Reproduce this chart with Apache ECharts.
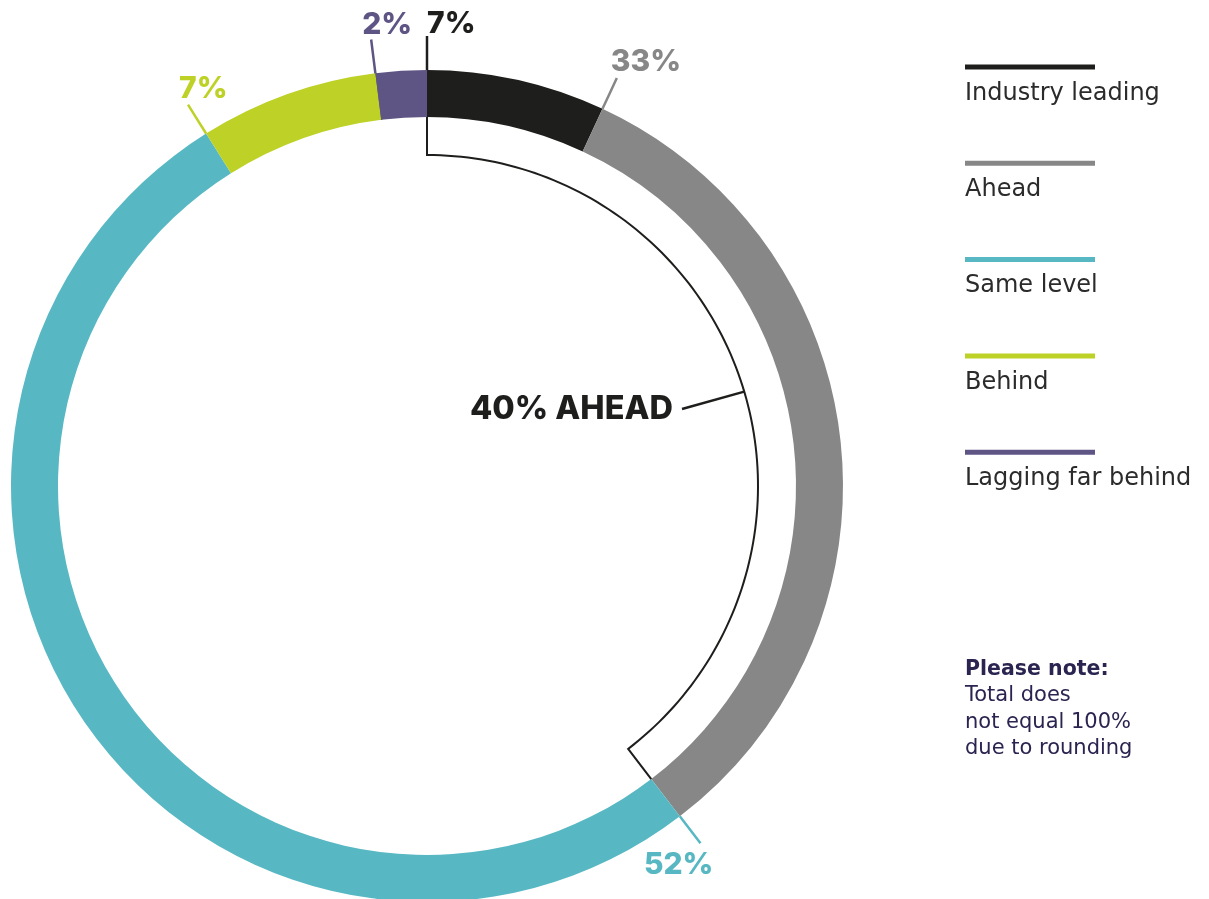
<!DOCTYPE html>
<html><head><meta charset="utf-8">
<script src="https://cdn.jsdelivr.net/npm/echarts@6/dist/echarts.min.js"></script>
<style>html,body{margin:0;padding:0;background:#fff}#c{width:1209px;height:899px}</style>
</head><body><div id="c"></div>
<script>
const categories = ['Industry leading', 'Ahead', 'Same level', 'Behind', 'Lagging far behind'];
const values = [7, 33, 52, 7, 2];
const colors = ['#1e1e1c', '#878787', '#57b8c4', '#bdd126', '#5f5585'];
const bracketLabel = '40% AHEAD';
const bracketCount = 2;
const noteTitle = 'Please note:';
const noteLines = ['Total does', 'not equal 100%', 'due to rounding'];

const FONT = 'Inter, "Noto Sans", sans-serif';
const TFONT = '"DejaVu Sans", Inter, sans-serif';
const CX = 427, CY = 486, R_IN = 369, R_OUT = 416, R_LBL = 450, R_BR = 331;
const total = values.reduce((a, b) => a + b, 0);
const startDeg = [];
let acc = 0;
values.forEach(v => { startDeg.push(acc / total * 360); acc += v; });
function pt(r, deg) { const a = deg * Math.PI / 180; return [CX + r * Math.sin(a), CY - r * Math.cos(a)]; }

const labelCfg = [
  { dx: 0, dy: 3, align: 'left', va: 'bottom', inner: false },
  { dx: -6, dy: -1, align: 'left', va: 'bottom', inner: false },
  { dx: 13, dy: 7, align: 'right', va: 'top', inner: false },
  { dx: -9, dy: -1, align: 'left', va: 'bottom', inner: false },
  { dx: -9, dy: 1, align: 'left', va: 'bottom', inner: true }
];

// bracket
let bracketEnd = 0;
for (let i = 0; i < bracketCount; i++) bracketEnd += values[i];
const bracketDeg = bracketEnd / total * 360;
const bracketPts = [pt(R_IN, 0)];
for (let k = 0; k <= 120; k++) bracketPts.push(pt(R_BR, bracketDeg * k / 120));
bracketPts.push(pt(R_IN, bracketDeg));
const midPt = pt(R_BR, bracketDeg * 0.515);

const graphics = [
  { type: 'polyline', shape: { points: bracketPts }, style: { stroke: '#1e1e1c', lineWidth: 2, fill: null }, z: 10 },
  { type: 'line', shape: { x1: 682, y1: 409, x2: midPt[0], y2: midPt[1] }, style: { stroke: '#1e1e1c', lineWidth: 2.5 }, z: 10 },
  { type: 'text', x: 673, y: 409, style: { text: bracketLabel, font: '800 32.5px ' + FONT, fill: '#1e1e1c', textAlign: 'right', textVerticalAlign: 'middle' }, z: 10 }
];
categories.forEach((c, i) => {
  const y = 64.5 + i * 96.3;
  graphics.push({ type: 'rect', shape: { x: 965, y: y, width: 130, height: 5 }, style: { fill: colors[i] } });
  graphics.push({ type: 'text', x: 965, y: y + 29, style: { text: c, font: '24px ' + TFONT, fill: '#2b2b2b', textVerticalAlign: 'middle' } });
});
graphics.push({ type: 'text', x: 965, y: 670, style: { text: noteTitle, font: 'bold 20.5px ' + TFONT, fill: '#2a2450', textVerticalAlign: 'middle' } });
noteLines.forEach((t, i) => {
  graphics.push({ type: 'text', x: 965, y: 696 + i * 26.3, style: { text: t, font: '21px ' + TFONT, fill: '#2a2450', textVerticalAlign: 'middle' } });
});

const chart = echarts.init(document.getElementById('c'));
chart.setOption({
  animation: false,
  backgroundColor: '#fff',
  series: [{
    type: 'pie',
    center: [CX, CY],
    radius: [R_IN, R_OUT],
    startAngle: 90,
    clockwise: true,
    avoidLabelOverlap: false,
    emphasis: { disabled: true },
    data: categories.map((c, i) => ({
      name: c, value: values[i],
      itemStyle: { color: colors[i] },
      label: { color: colors[i] },
      labelLine: { lineStyle: { color: colors[i] } }
    })),
    label: {
      show: true, position: 'outside',
      formatter: p => p.value + '%',
      fontFamily: FONT, fontWeight: 800, fontSize: 30
    },
    labelLine: { show: true, length: 10, length2: 10, lineStyle: { width: 2.5 } },
    labelLayout: function (p) {
      const i = p.dataIndex, d = startDeg[i], cfg = labelCfg[i];
      const s = pt(cfg.inner ? R_IN : R_OUT, d), e = pt(R_LBL, d);
      const m = [(s[0] + e[0]) / 2, (s[1] + e[1]) / 2];
      return { x: e[0] + cfg.dx, y: e[1] + cfg.dy, align: cfg.align, verticalAlign: cfg.va, labelLinePoints: [s, m, e] };
    }
  }],
  graphic: graphics
});
</script></body></html>
